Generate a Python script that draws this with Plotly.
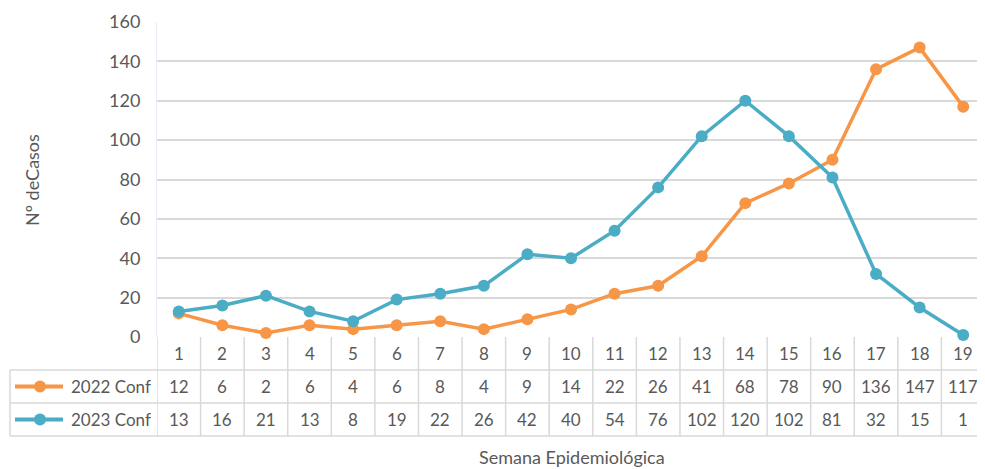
import plotly.graph_objects as go

semanas = [str(i) for i in range(1, 20)]
conf_2022 = [12, 6, 2, 6, 4, 6, 8, 4, 9, 14, 22, 26, 41, 68, 78, 90, 136, 147, 117]
conf_2023 = [13, 16, 21, 13, 8, 19, 22, 26, 42, 40, 54, 76, 102, 120, 102, 81, 32, 15, 1]
series_names = ["2022 Conf", "2023 Conf"]
y_ticks = [0, 20, 40, 60, 80, 100, 120, 140, 160]

ORANGE = "#F79646"
TEAL = "#4BACC6"
GRID = "#D9D9D9"
TXT = "#595959"
FONT = "Lato"

OFF = 8  # default page body margin
W, H = 985 - OFF, 469 - OFF
L, R, T, B = 157 - OFF, 0, 22 - OFF, 132
PH = H - T - B
PW = W - L - R

def py(p):
    return (T + OFF + PH - p) / PH

def px(p):
    return (p - OFF - L) / PW

xs = list(range(1, len(semanas) + 1))

fig = go.Figure()
for name, vals, col in [(series_names[0], conf_2022, ORANGE), (series_names[1], conf_2023, TEAL)]:
    fig.add_trace(go.Scatter(
        x=xs, y=vals, name=name, mode="lines+markers",
        line=dict(color=col, width=3.5),
        marker=dict(color=col, size=12),
        showlegend=False, cliponaxis=False,
    ))

shapes = []
ann = []
for p in [370, 403, 436]:
    shapes.append(dict(type="line", xref="paper", yref="paper", x0=px(10), x1=px(985),
                       y0=py(p), y1=py(p), line=dict(color=GRID, width=1.5)))
for k in range(len(semanas) + 1):
    shapes.append(dict(type="line", xref="x", yref="paper", x0=k + 0.5, x1=k + 0.5,
                       y0=py(337), y1=py(436), line=dict(color=GRID, width=1.5)))
shapes.append(dict(type="line", xref="paper", yref="paper", x0=px(10), x1=px(10),
                   y0=py(370), y1=py(436), line=dict(color=GRID, width=1.5)))

def A(size=17, **kw):
    d = dict(showarrow=False, xanchor="center", yanchor="middle",
             font=dict(family=FONT, size=size, color=TXT))
    d.update(kw)
    return d

for x, s in zip(xs, semanas):
    ann.append(A(x=x, y=py(353.5), xref="x", yref="paper", text=s))
for rowc, vals, col, name in [(386.5, conf_2022, ORANGE, series_names[0]),
                              (419.5, conf_2023, TEAL, series_names[1])]:
    for x, v in zip(xs, vals):
        ann.append(A(x=x, y=py(rowc), xref="x", yref="paper", text=str(v)))
    shapes.append(dict(type="line", xref="paper", yref="paper", x0=px(15), x1=px(63),
                       y0=py(rowc), y1=py(rowc), line=dict(color=col, width=4)))
    shapes.append(dict(type="circle", xref="paper", yref="paper",
                       x0=px(34), x1=px(46), y0=py(rowc + 6), y1=py(rowc - 6),
                       fillcolor=col, line=dict(color=col, width=0)))
    ann.append(A(x=px(69), y=py(rowc), xref="paper", yref="paper", text=name, xanchor="left"))

ann.append(A(size=18, x=px(32), y=py(180), xref="paper", yref="paper", text="Nº deCasos", textangle=-90))
ann.append(A(size=18, x=px(572), y=py(457), xref="paper", yref="paper", text="Semana Epidemiológica"))

fig.update_layout(
    width=W, height=H,
    margin=dict(l=L, r=R, t=T, b=B),
    paper_bgcolor="white", plot_bgcolor="white",
    shapes=shapes, annotations=ann,
    xaxis=dict(range=[0.5, len(semanas) + 0.5], showticklabels=False, showgrid=False,
               zeroline=False, showline=False, ticks=""),
    yaxis=dict(range=[0, 160], tickvals=y_ticks, showgrid=True, gridcolor=GRID, gridwidth=1.5,
               zeroline=False, showline=True, linecolor="#E8ECF4", linewidth=1,
               ticks="", ticklen=0, ticklabelstandoff=12,
               tickfont=dict(family=FONT, size=18, color=TXT)),
)

fig.write_html("out.html")
